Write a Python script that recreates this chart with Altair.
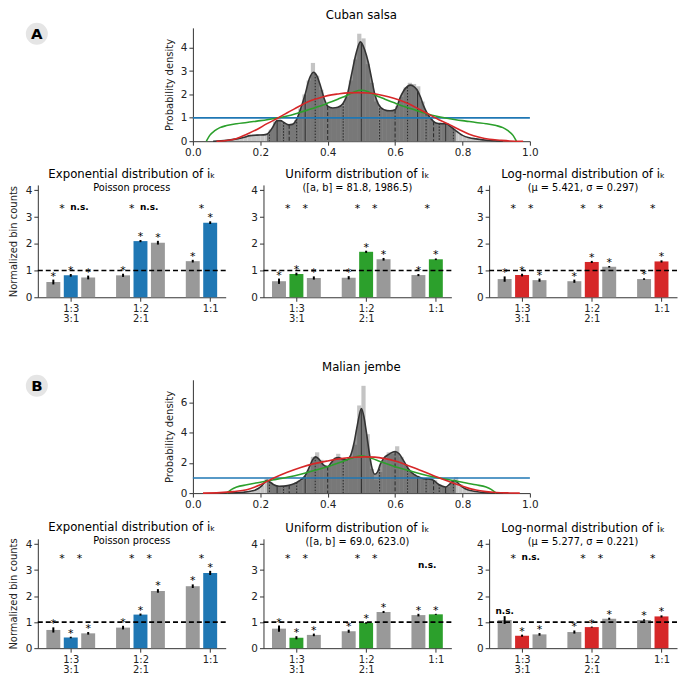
import json
import altair as alt
import pandas as pd

FONT = "DejaVu Sans"
INK = "#262626"
BLUE, GREEN, RED, GRAY = "#1f77b4", "#2ca02c", "#d62728", "#999999"
HIST_GRAY = "#c4c4c4"

# ---------------- density panels ----------------
HIST_START, HIST_STEP, HIST_N = 0.10, 0.0125, 64
HIST_A = [0.05, 0.08, 0.10, 0.15, 0.20, 0.25, 0.30, 0.30, 0.28, 0.35, 0.50, 0.85, 0.90, 0.75, 0.70, 0.70,
          0.90, 1.40, 2.00, 2.60, 3.35, 2.80, 2.20, 1.60, 1.45, 1.40, 1.45, 1.50, 1.90, 2.60, 3.50, 4.60,
          4.40, 3.30, 2.50, 1.70, 1.40, 1.30, 1.30, 1.30, 1.50, 1.90, 2.30, 2.50, 2.45, 2.35, 1.70, 1.20,
          0.95, 0.80, 0.75, 0.75, 0.75, 0.60, 0.45, 0.30, 0.20, 0.15, 0.12, 0.08, 0.06, 0.04, 0.03, 0.02]
HIST_B = [0.02, 0.03, 0.05, 0.06, 0.08, 0.10, 0.20, 0.30, 0.50, 0.95, 0.70, 0.50, 0.45, 0.45, 0.50, 0.55,
          0.70, 0.80, 1.00, 1.50, 2.40, 2.70, 2.20, 1.80, 1.80, 2.20, 2.60, 2.30, 2.20, 2.40, 3.20, 5.80,
          7.10, 3.90, 1.60, 0.90, 1.40, 2.20, 2.70, 2.60, 3.10, 2.40, 1.90, 1.50, 1.25, 1.05, 0.95, 0.90,
          0.95, 0.85, 0.60, 0.45, 0.40, 0.70, 1.05, 0.60, 0.30, 0.20, 0.12, 0.08, 0.05, 0.03, 0.02, 0.01]

KDE_A_X = [0.06, 0.10, 0.13, 0.15, 0.17, 0.19, 0.21, 0.22, 0.235, 0.25, 0.26, 0.27, 0.285, 0.295, 0.31,
           0.32, 0.333, 0.345, 0.358, 0.368, 0.38, 0.39, 0.40, 0.415, 0.43, 0.445, 0.46, 0.47, 0.485,
           0.497, 0.51, 0.52, 0.53, 0.54, 0.55, 0.567, 0.585, 0.60, 0.616, 0.63, 0.645, 0.655, 0.665,
           0.675, 0.685, 0.695, 0.704, 0.714, 0.724, 0.74, 0.754, 0.765, 0.78, 0.80, 0.82, 0.84, 0.88, 0.92]
KDE_A_Y = [0.0, 0.04, 0.10, 0.16, 0.24, 0.26, 0.27, 0.30, 0.55, 0.88, 0.88, 0.80, 0.70, 0.72, 1.00,
           1.40, 2.00, 2.65, 2.95, 2.80, 2.30, 1.80, 1.50, 1.42, 1.45, 1.60, 2.10, 2.80, 3.80,
           4.25, 3.90, 3.40, 2.70, 2.00, 1.60, 1.35, 1.30, 1.35, 1.90, 2.25, 2.40, 2.35, 2.20,
           1.90, 1.50, 1.20, 1.00, 0.85, 0.77, 0.75, 0.74, 0.62, 0.45, 0.25, 0.15, 0.10, 0.03, 0.0]

KDE_B_X = [0.08, 0.12, 0.15, 0.17, 0.19, 0.205, 0.22, 0.23, 0.24, 0.256, 0.27, 0.285, 0.30, 0.315,
           0.333, 0.345, 0.355, 0.364, 0.374, 0.388, 0.40, 0.41, 0.422, 0.432, 0.445, 0.455, 0.468,
           0.478, 0.488, 0.50, 0.508, 0.515, 0.522, 0.53, 0.54, 0.548, 0.556, 0.566, 0.58, 0.60, 0.612,
           0.625, 0.64, 0.652, 0.667, 0.685, 0.70, 0.714, 0.725, 0.737, 0.75, 0.762, 0.775, 0.78, 0.79,
           0.80, 0.815, 0.84, 0.87, 0.92]
KDE_B_Y = [0.0, 0.02, 0.06, 0.12, 0.25, 0.50, 0.85, 0.72, 0.55, 0.45, 0.46, 0.52, 0.62, 0.80,
           1.15, 1.70, 2.20, 2.40, 2.25, 1.85, 1.75, 2.00, 2.30, 2.35, 2.25, 2.20, 2.50,
           3.30, 4.50, 5.60, 5.00, 4.00, 2.90, 1.80, 1.25, 1.40, 1.90, 2.30, 2.55, 2.75, 2.60,
           2.15, 1.60, 1.30, 1.10, 0.95, 0.93, 0.85, 0.65, 0.48, 0.40, 0.60, 0.85, 0.80, 0.60,
           0.40, 0.22, 0.10, 0.03, 0.0]

FILL_LO, FILL_HI = 0.22, 0.78
LINE_X = [0.227, 0.25, 0.269, 0.2857, 0.308, 0.3333, 0.363, 0.4, 0.446, 0.5,
          0.554, 0.6, 0.637, 0.6667, 0.692, 0.7143, 0.731, 0.75, 0.773]
LINE_STYLE = ["dot", "solid", "dot", "dash", "dot", "solid", "dot", "dash", "dot", "solid",
              "dot", "dash", "dot", "solid", "dot", "dash", "dot", "solid", "dot"]
LINE_H_A = [0.42, 0.88, 0.81, 0.70, 0.95, 2.00, 2.88, 1.50, 1.62, 4.20,
            1.54, 1.35, 2.32, 2.15, 1.29, 0.85, 0.76, 0.745, 0.53]
LINE_H_B = [0.76, 0.49, 0.46, 0.52, 0.70, 1.15, 2.40, 1.75, 2.25, 5.60,
            1.78, 2.75, 1.70, 1.10, 0.94, 0.85, 0.57, 0.40, 0.81]

UNIFORM_LEVEL = 1.0
GREEN_A_X = [0.04, 0.05, 0.065, 0.08, 0.10, 0.13, 0.16, 0.19, 0.22, 0.25, 0.28, 0.31, 0.34, 0.37, 0.40,
             0.43, 0.46, 0.48, 0.50, 0.52, 0.54, 0.57, 0.60, 0.63, 0.66, 0.69, 0.72, 0.75, 0.78, 0.81,
             0.84, 0.87, 0.90, 0.92, 0.935, 0.95, 0.96]
GREEN_A_Y = [0.0, 0.25, 0.45, 0.58, 0.67, 0.75, 0.80, 0.86, 0.92, 0.99, 1.08, 1.20, 1.33, 1.47, 1.63,
             1.80, 1.98, 2.12, 2.18, 2.12, 1.98, 1.80, 1.63, 1.47, 1.33, 1.20, 1.08, 0.99, 0.92, 0.86,
             0.80, 0.75, 0.67, 0.58, 0.45, 0.25, 0.0]
RED_A_X = [0.07, 0.10, 0.13, 0.16, 0.19, 0.22, 0.25, 0.28, 0.31, 0.34, 0.37, 0.40, 0.43, 0.46, 0.49,
           0.52, 0.55, 0.58, 0.61, 0.64, 0.67, 0.70, 0.73, 0.76, 0.79, 0.82, 0.85, 0.88, 0.91, 0.94, 0.98]
RED_A_Y = [0.0, 0.03, 0.12, 0.30, 0.50, 0.75, 0.97, 1.22, 1.45, 1.68, 1.83, 1.95, 2.02, 2.07, 2.08,
           2.06, 2.00, 1.90, 1.77, 1.60, 1.38, 1.15, 0.92, 0.72, 0.50, 0.30, 0.17, 0.08, 0.04, 0.01, 0.0]
GREEN_B_X = [0.10, 0.115, 0.13, 0.16, 0.20, 0.24, 0.28, 0.32, 0.36, 0.40, 0.44, 0.47, 0.50, 0.53,
             0.56, 0.60, 0.64, 0.68, 0.72, 0.76, 0.80, 0.84, 0.87, 0.885, 0.90]
GREEN_B_Y = [0.0, 0.25, 0.40, 0.55, 0.72, 0.88, 1.05, 1.25, 1.50, 1.75, 2.05, 2.30, 2.47, 2.30,
             2.05, 1.75, 1.50, 1.25, 1.05, 0.88, 0.72, 0.55, 0.40, 0.25, 0.0]
RED_B_X = [0.03, 0.08, 0.12, 0.16, 0.20, 0.24, 0.28, 0.32, 0.36, 0.40, 0.44, 0.48, 0.51, 0.54, 0.57,
           0.60, 0.63, 0.66, 0.69, 0.72, 0.75, 0.78, 0.81, 0.84, 0.87, 0.90, 0.94, 0.97]
RED_B_Y = [0.0, 0.03, 0.10, 0.22, 0.55, 1.00, 1.38, 1.70, 1.95, 2.13, 2.28, 2.37, 2.40, 2.38, 2.28,
           2.12, 1.90, 1.65, 1.38, 1.10, 0.85, 0.60, 0.38, 0.20, 0.10, 0.04, 0.01, 0.0]

# ---------------- bar panels ----------------
POS = [0, 1, 2, 4, 5, 6, 8, 9]
MODEL = [0, 1, 0, 0, 1, 0, 0, 1]
BAR_HALF = 0.4
TICK_POS = [1, 5, 9]
TICK_TEXT = [["1:3", "3:1"], ["1:2", "2:1"], ["1:1"]]
CMP_POS = [0.5, 1.5, 4.5, 5.5, 8.5]

T_EXP = "Exponential distribution of iₖ"
T_UNI = "Uniform distribution of iₖ"
T_LOG = "Log-normal distribution of iₖ"

PANELS_A = [
    dict(title=T_EXP, sub="Poisson process", color=BLUE,
         vals=[0.57, 0.82, 0.74, 0.82, 2.10, 2.04, 1.35, 2.79],
         errs=[0.09, 0.05, 0.07, 0.06, 0.04, 0.07, 0.05, 0.05],
         labels=["*"] * 8,
         cmp=["*", "n.s.", "*", "n.s.", "*"], cmp_y=[3.2, 3.2, 3.2, 3.2, 3.2]),
    dict(title=T_UNI, sub="([a, b] = 81.8, 1986.5)", color=GREEN,
         vals=[0.60, 0.87, 0.72, 0.73, 1.70, 1.42, 0.83, 1.42],
         errs=[0.10, 0.05, 0.06, 0.06, 0.04, 0.05, 0.04, 0.03],
         labels=["*"] * 8,
         cmp=["*", "*", "*", "*", "*"], cmp_y=[3.2, 3.2, 3.2, 3.2, 3.2]),
    dict(title=T_LOG, sub="(μ = 5.421, σ = 0.297)", color=RED,
         vals=[0.68, 0.83, 0.64, 0.60, 1.32, 1.14, 0.68, 1.34],
         errs=[0.10, 0.05, 0.06, 0.06, 0.04, 0.03, 0.03, 0.04],
         labels=["*"] * 8,
         cmp=["*", "*", "*", "*", "*"], cmp_y=[3.2, 3.2, 3.2, 3.2, 3.2]),
]
PANELS_B = [
    dict(title=T_EXP, sub="Poisson process", color=BLUE,
         vals=[0.70, 0.41, 0.57, 0.79, 1.29, 2.20, 2.38, 2.89],
         errs=[0.10, 0.03, 0.05, 0.07, 0.04, 0.07, 0.07, 0.08],
         labels=["*"] * 8,
         cmp=["*", "*", "*", "*", "*"], cmp_y=[3.3, 3.3, 3.3, 3.3, 3.3]),
    dict(title=T_UNI, sub="([a, b] = 69.0, 623.0)", color=GREEN,
         vals=[0.75, 0.40, 0.51, 0.65, 0.97, 1.39, 1.27, 1.30],
         errs=[0.12, 0.06, 0.05, 0.06, 0.03, 0.04, 0.05, 0.02],
         labels=["*"] * 8,
         cmp=["*", "*", "*", "*", "n.s."], cmp_y=[3.3, 3.3, 3.3, 3.3, 3.0]),
    dict(title=T_LOG, sub="(μ = 5.277, σ = 0.221)", color=RED,
         vals=[1.08, 0.48, 0.53, 0.62, 0.81, 1.13, 1.08, 1.22],
         errs=[0.15, 0.04, 0.05, 0.06, 0.02, 0.04, 0.03, 0.04],
         labels=["n.s.", "*", "*", "*", "*", "*", "*", "*"],
         cmp=["*", "n.s.", "*", "*", "*"], cmp_y=[3.3, 3.3, 3.3, 3.3, 3.3]),
]

DENS_W, DENS_H = 339, 114
BAR_W = 189
SPACER_W = 115


def label_expr():
    parts = []
    for p, t in zip(TICK_POS, TICK_TEXT):
        parts.append(f"datum.value == {p} ? {json.dumps(t)} : ")
    return "".join(parts) + "''"


def density_chart(title, hist, kx, ky, lh, gx, gy, rx, ry, ymax, yticks):
    xs = alt.Scale(domain=[0, 1], nice=False, zero=False)
    ys = alt.Scale(domain=[0, ymax], nice=False)
    xax = alt.Axis(values=[0, 0.2, 0.4, 0.6, 0.8, 1.0], format=".1f", title=None,
                   labelFlush=False, labelFontSize=10.5)
    yax = alt.Axis(values=yticks, title="Probability density", titlePadding=6,
                   labelFontSize=10.5, titleFontSize=10)
    edges = [HIST_START + i * HIST_STEP for i in range(HIST_N + 1)]
    hist_df = pd.DataFrame({"x": edges[:-1], "hi": edges[1:], "y": hist})
    kde_df = pd.DataFrame({"x": kx, "y": ky})
    fill_df = kde_df[(kde_df.x >= FILL_LO) & (kde_df.x <= FILL_HI)]
    lines_df = pd.DataFrame({"x": LINE_X, "y": lh, "s": LINE_STYLE})
    X = lambda f="x": alt.X(f"{f}:Q", scale=xs, axis=xax)
    Y = lambda f="y": alt.Y(f"{f}:Q", scale=ys, axis=yax)

    hist_l = alt.Chart(hist_df).mark_rect(color=HIST_GRAY).encode(
        x=X(), x2="hi:Q", y=Y(), y2=alt.datum(0))
    fill_l = alt.Chart(fill_df).mark_area(color="#3a3a3a", opacity=0.55, interpolate="monotone").encode(
        x=X(), y=Y())
    vl = alt.Chart(lines_df).mark_rule(color=INK, strokeWidth=1).encode(
        x=X(), y=Y(), y2=alt.datum(0),
        strokeDash=alt.StrokeDash("s:N", scale=alt.Scale(domain=["solid", "dash", "dot"],
                                                          range=[[1, 0], [4, 2], [1.5, 1.5]]),
                                  legend=None))
    kde_l = alt.Chart(kde_df).mark_line(color="#333333", strokeWidth=1.6, interpolate="monotone").encode(
        x=X(), y=Y())
    blue_l = alt.Chart(pd.DataFrame({"y": [UNIFORM_LEVEL]})).mark_rule(color=BLUE, strokeWidth=1.6).encode(
        y=Y())
    green_l = alt.Chart(pd.DataFrame({"x": gx, "y": gy})).mark_line(
        color=GREEN, strokeWidth=1.6, interpolate="monotone").encode(x=X(), y=Y())
    red_l = alt.Chart(pd.DataFrame({"x": rx, "y": ry})).mark_line(
        color=RED, strokeWidth=1.6, interpolate="monotone").encode(x=X(), y=Y())
    return alt.layer(hist_l, fill_l, vl, kde_l, blue_l, green_l, red_l).properties(
        width=DENS_W, height=DENS_H,
        title=alt.TitleParams(title, fontSize=11.8, offset=6, anchor="middle", font=FONT,
                              fontWeight="normal", color="black"))


def badge(letter):
    df = pd.DataFrame({"t": [letter]})
    c = alt.Chart(df).mark_circle(size=490, color="#e5e5e5", opacity=1).encode(
        x=alt.value(-1), y=alt.value(6))
    t = alt.Chart(df).mark_text(font=FONT, fontSize=15, fontWeight="bold", color="black").encode(
        x=alt.value(-1), y=alt.value(6), text="t:N")
    return alt.layer(c, t).properties(width=SPACER_W, height=DENS_H)


def bar_panel(p, h, ytitle):
    df = pd.DataFrame({"pos": POS, "v": p["vals"], "e": p["errs"], "lab": p["labels"],
                       "c": [p["color"] if m else GRAY for m in MODEL]})
    df["lo"] = df["v"] - df["e"]
    df["hi"] = df["v"] + df["e"]
    df["x0"] = df["pos"] - BAR_HALF
    df["x1"] = df["pos"] + BAR_HALF
    cmp_df = pd.DataFrame({"pos": CMP_POS, "lab": p["cmp"], "y": p["cmp_y"]})
    xs = alt.Scale(domain=[-0.89, 9.89], nice=False, zero=False)
    ys = alt.Scale(domain=[0, 4.2], nice=False)
    xax = alt.Axis(values=TICK_POS, labelExpr=label_expr(), title=None, labelFontSize=10,
                   labelLineHeight=10, labelPadding=2)
    ykw = dict(values=[0, 1, 2, 3, 4], labelFontSize=10.5)
    if ytitle:
        ykw.update(title="Normalized bin counts", titlePadding=7, titleFontSize=10)
    else:
        ykw.update(title=None)
    yax = alt.Axis(**ykw)
    X = lambda f: alt.X(f"{f}:Q", scale=xs, axis=xax)
    Y = lambda f: alt.Y(f"{f}:Q", scale=ys, axis=yax)

    layers = [
        alt.Chart(df).mark_rect().encode(x=X("x0"), x2="x1:Q", y=Y("v"), y2=alt.datum(0),
                                         color=alt.Color("c:N", scale=None)),
        alt.Chart(df).mark_rule(color="black", strokeWidth=2).encode(x=X("pos"), y=Y("lo"), y2="hi:Q"),
        alt.Chart(pd.DataFrame({"v": [1.0]})).mark_rule(color="black", strokeDash=[5, 3],
                                                        strokeWidth=1.6).encode(y=Y("v")),
    ]
    for d, yf in ((df, "hi"), (cmp_df, "y")):
        st = d[d["lab"] == "*"]
        ns = d[d["lab"] == "n.s."]
        if len(st):
            layers.append(alt.Chart(st).mark_text(font=FONT, fontSize=11, baseline="alphabetic",
                                                  color="black").encode(
                x=X("pos"), y=Y(yf), text="lab:N"))
        if len(ns):
            layers.append(alt.Chart(ns).mark_text(font=FONT, fontSize=9, fontWeight="bold",
                                                  baseline="alphabetic", dy=-2, color="black").encode(
                x=X("pos"), y=Y(yf), text="lab:N"))
    return alt.layer(*layers).properties(
        width=BAR_W, height=h,
        title=alt.TitleParams(p["title"], subtitle=p["sub"], fontSize=11.8, subtitleFontSize=9.8,
                              offset=-8, subtitlePadding=2, anchor="middle", font=FONT,
                              subtitleFont=FONT, fontWeight="normal", color="black",
                              subtitleColor="black"))


dens_a = density_chart("Cuban salsa", HIST_A, KDE_A_X, KDE_A_Y, LINE_H_A,
                       GREEN_A_X, GREEN_A_Y, RED_A_X, RED_A_Y, 4.85, [0, 1, 2, 3, 4])
dens_b = density_chart("Malian jembe", HIST_B, KDE_B_X, KDE_B_Y, LINE_H_B,
                       GREEN_B_X, GREEN_B_Y, RED_B_X, RED_B_Y, 7.5, [0, 2, 4, 6])

row_a1 = alt.hconcat(badge("A"), dens_a, spacing=12)
row_a2 = alt.hconcat(*[bar_panel(p, 113, i == 0) for i, p in enumerate(PANELS_A)], spacing=24)
row_b1 = alt.hconcat(badge("B"), dens_b, spacing=12)
row_b2 = alt.hconcat(*[bar_panel(p, 110, i == 0) for i, p in enumerate(PANELS_B)], spacing=24)

chart = alt.vconcat(
    alt.vconcat(row_a1, row_a2, spacing=11),
    alt.vconcat(row_b1, row_b2, spacing=12),
    spacing=39,
).properties(padding=0).configure_view(strokeWidth=0).configure_axis(
    labelFont=FONT, titleFont=FONT, labelColor="#222222", titleColor="#222222",
    domainColor="#333333", tickColor="#333333", tickSize=4, labelPadding=2,
    grid=False, titleFontWeight="normal",
).configure_title(font=FONT)

chart.save("out.html", embed_options={"renderer": "svg", "actions": False})
